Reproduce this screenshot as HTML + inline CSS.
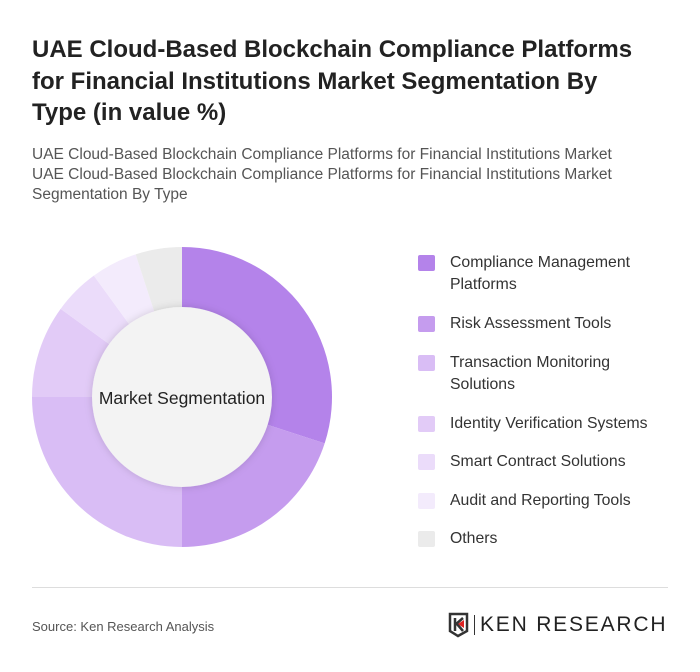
<!DOCTYPE html>
<html><head><meta charset="utf-8"><style>
body{margin:0;width:700px;height:672px;background:#fff;font-family:"Liberation Sans",sans-serif;position:relative;overflow:hidden}
.t{position:absolute;left:32px;top:34px;font-size:24px;font-weight:bold;line-height:31.5px;color:#222;white-space:nowrap}
.s{position:absolute;left:32px;top:145px;font-size:15.5px;line-height:20px;color:#555;white-space:nowrap}
.lg{position:absolute;left:418px;font-size:15.8px;color:#333;line-height:22px}
.lg i{position:absolute;left:0;top:3px;width:17px;height:16px;border-radius:2px}
.lg span{position:absolute;left:32px;top:0;white-space:nowrap}
</style></head><body>
<div class="t">UAE Cloud-Based Blockchain Compliance Platforms<br>for Financial Institutions Market Segmentation By<br>Type (in value %)</div>
<div class="s">UAE Cloud-Based Blockchain Compliance Platforms for Financial Institutions Market<br>UAE Cloud-Based Blockchain Compliance Platforms for Financial Institutions Market<br>Segmentation By Type</div>
<svg id="pie" width="700" height="672" style="position:absolute;left:0;top:0">
<defs><filter id="sh" x="-20%" y="-20%" width="140%" height="140%"><feDropShadow dx="0" dy="0" stdDeviation="4" flood-color="#000" flood-opacity="0.15"/></filter></defs>
<g id="slices"></g>
<circle cx="182" cy="397" r="90" fill="#f3f3f3" filter="url(#sh)"/>
<text x="182" y="404" text-anchor="middle" font-size="17.5" fill="#222" font-family="Liberation Sans">Market Segmentation</text>
</svg>
<div id="legend"></div>
<div style="position:absolute;left:32px;top:587px;width:636px;height:1px;background:#ddd"></div>
<div style="position:absolute;left:32px;top:619px;font-size:13px;color:#555">Source: Ken Research Analysis</div>
<div style="position:absolute;left:448px;top:612px;width:220px;height:26px">
<svg width="22" height="26" style="position:absolute;left:0;top:0"><path d="M2 2H19V19L10 24 2 19Z" fill="none" stroke="#333" stroke-width="2.5"/><path d="M7 6V19M7 13L15 6M9 12L15 19" stroke="#333" stroke-width="2.5" fill="none"/><path d="M10 12L16 8V16Z" fill="#d22"/></svg>
<div style="position:absolute;left:26px;top:3px;width:1px;height:20px;background:#333"></div>
<div style="position:absolute;left:32px;top:1px;font-size:21px;letter-spacing:1.8px;color:#222;white-space:nowrap">KEN RESEARCH</div>
</div>
<script>
const categories=["Compliance Management Platforms","Risk Assessment Tools","Transaction Monitoring Solutions","Identity Verification Systems","Smart Contract Solutions","Audit and Reporting Tools","Others"];
const values=[30,20,25,10,5,5,5];
const colors=["#b483ea","#c59cee","#d9bdf5","#e2cbf7","#ebdcfa","#f3ebfc","#ebebeb"];
const legendLines=[["Compliance Management","Platforms"],["Risk Assessment Tools"],["Transaction Monitoring","Solutions"],["Identity Verification Systems"],["Smart Contract Solutions"],["Audit and Reporting Tools"],["Others"]];
const cx=182,cy=397,R=150;
const total=values.reduce((a,b)=>a+b,0);
const g=document.getElementById('slices');
let a0=0;
function pt(a){return [cx+R*Math.sin(a),cy-R*Math.cos(a)];}
values.forEach((v,i)=>{
 const a1=a0+v/total*2*Math.PI;
 const p0=pt(a0),p1=pt(a1);
 const p=document.createElementNS('http://www.w3.org/2000/svg','path');
 p.setAttribute('d',`M${cx} ${cy}L${p0[0]} ${p0[1]}A${R} ${R} 0 ${a1-a0>Math.PI?1:0} 1 ${p1[0]} ${p1[1]}Z`);
 p.setAttribute('fill',colors[i]);
 
 
 g.appendChild(p);
 a0=a1;
});
const L=document.getElementById('legend');
let y=252;
legendLines.forEach((lines,i)=>{
 const d=document.createElement('div');
 d.className='lg';
 d.style.top=y+'px';
 
 
 d.innerHTML='<i style="background:'+colors[i]+'"></i><span>'+lines.join('<br>')+'</span>';
 L.appendChild(d);
 y+= lines.length>1?61:38.5;
});
</script>
</body></html>
